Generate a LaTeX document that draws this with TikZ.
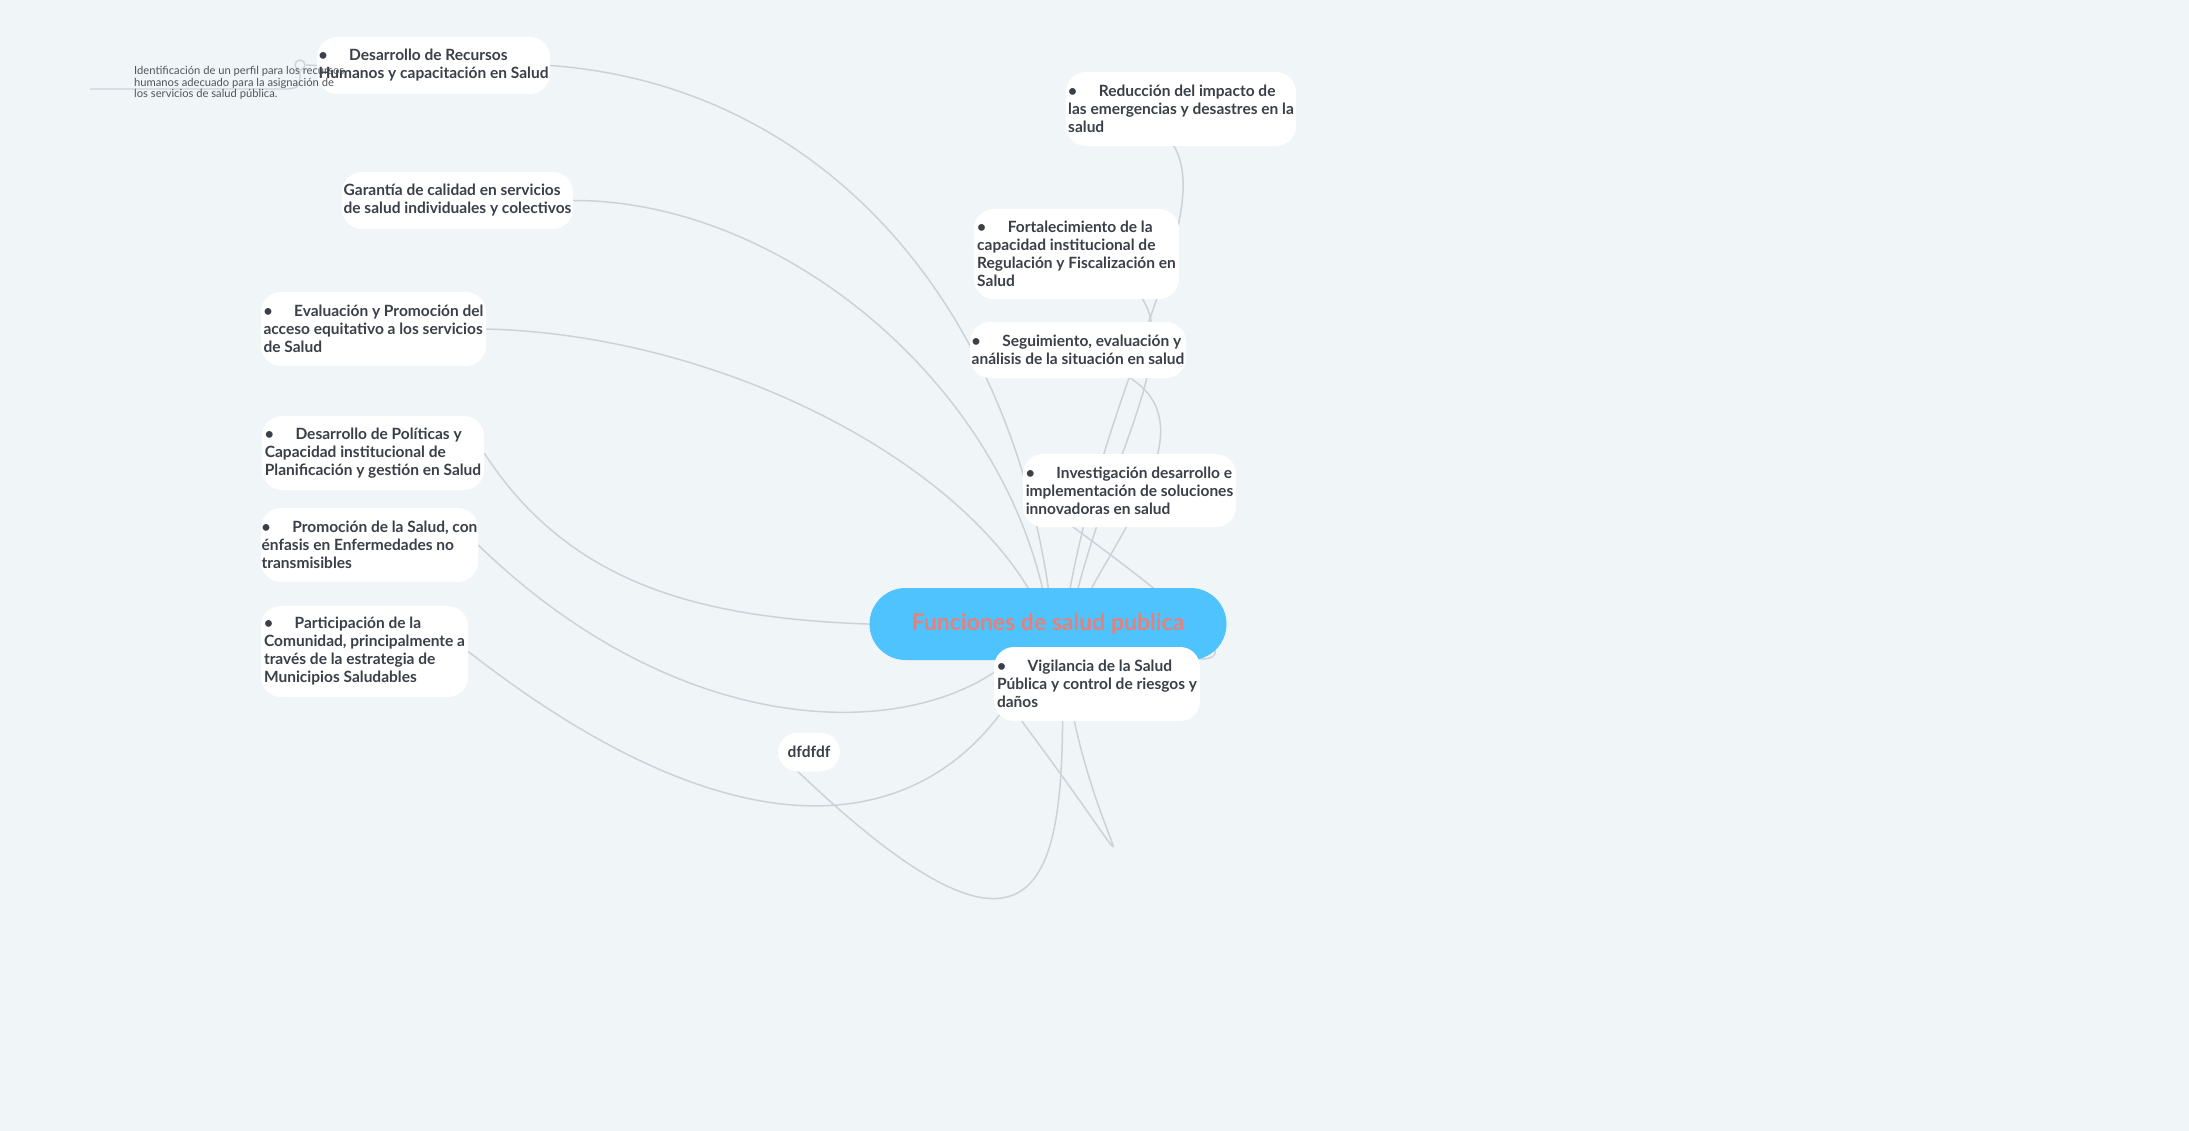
\documentclass[tikz,border=0pt]{standalone}
\usepackage{fontspec}
\setmainfont{Lato}
\usetikzlibrary{backgrounds}
\pgfdeclarelayer{bgfill}
\pgfsetlayers{bgfill,background,main}
\definecolor{bg}{HTML}{F0F5F8}
\definecolor{hub}{HTML}{4EC3FD}
\definecolor{hubtxt}{HTML}{E8807A}
\definecolor{ttl}{HTML}{3A3F48}
\definecolor{ntxt}{HTML}{50555C}
\definecolor{ln}{HTML}{CCD2D8}
\tikzset{
 topic/.style={fill=white,rounded corners=20pt,text=ttl,font=\fontsize{15.5}{18}\selectfont\bfseries,align=left,inner sep=0pt},
 hubst/.style={fill=hub,rounded corners=36pt,minimum width=357,minimum height=72,text=hubtxt,font=\fontsize{23}{26}\selectfont\bfseries},
 note/.style={anchor=north west,text=ntxt,font=\fontsize{11.2}{11.7}\selectfont,align=left,inner sep=0pt},
 conn/.style={draw=ln,line width=1.5pt},
 nconn/.style={draw=ln,line width=1.3pt},
 dot/.style={circle,draw=ln,line width=1.3pt,fill=bg,minimum size=10pt,inner sep=0pt},
}
\newcommand{\bul}{\textbullet\hspace{1.4em}}
\newcommand{\tbox}[6]{\node[topic,minimum width={#4-#2},minimum height={#5-#3}] (#1) at ({(#2+#4)/2},{(#3+#5)/2}) {#6};}
\newcommand{\lnote}[8]{
 \node[dot] (d#1) at (#2,#3) {};
 \draw[nconn] (#1.west) -- (d#1.east);
 \coordinate (e#1) at (#5,#4);
 \draw[nconn] (d#1.south) .. controls (#2,{#4-2}) and (#2,#4) .. ({#2-18},#4) -- (e#1);
 \node[note] (n#1) at (#6,#7) {#8};}
\newcommand{\rnote}[8]{
 \node[dot] (d#1) at (#2,#3) {};
 \draw[nconn] (#1.east) -- (d#1.west);
 \coordinate (e#1) at (#5,#4);
 \draw[nconn] (d#1.south) .. controls (#2,{#4-2}) and (#2,#4) .. ({#2+18},#4) -- (e#1);
 \node[note] (n#1) at (#6,#7) {#8};}
\begin{document}
\begin{tikzpicture}[x=1pt,y=-1pt]
\begin{pgfonlayer}{bgfill}
\fill[bg] (0,0) rectangle (2189,1131);
\end{pgfonlayer}
\useasboundingbox (0,0) rectangle (2189,1131);
\node[hubst] (c) at (1048,624) {Funciones de salud publica};
\tbox{L1}{317}{37}{550}{94}{\bul Desarrollo de Recursos\\Humanos y capacitación en Salud}
\tbox{L2}{342}{172}{573}{229}{Garantía de calidad en servicios\\de salud individuales y colectivos}
\tbox{L3}{261}{292}{486}{366}{\bul Evaluación y Promoción del\\acceso equitativo a los servicios\\de Salud}
\tbox{L4}{262}{416}{484}{490}{\bul Desarrollo de Políticas y\\Capacidad institucional de\\Planificación y gestión en Salud}
\tbox{L5}{261}{508}{478}{582}{\bul Promoción de la Salud, con\\énfasis en Enfermedades no\\transmisibles}
\tbox{L6}{261}{606}{468}{697}{\bul Participación de la\\Comunidad, principalmente a\\través de la estrategia de\\Municipios Saludables}
\tbox{R1}{1066}{72}{1296}{146}{\bul Reducción del impacto de\\las emergencias y desastres en la\\salud}
\tbox{R2}{974}{209}{1179}{299}{\bul Fortalecimiento de la\\capacidad institucional de\\Regulación y Fiscalización en\\Salud}
\tbox{R3}{970}{322}{1186}{378}{\bul Seguimiento, evaluación y\\análisis de la situación en salud}
\tbox{R4}{1023}{454}{1236}{527}{\bul Investigación desarrollo e\\implementación de soluciones\\innovadoras en salud}
\tbox{R5}{994}{647}{1200}{721}{\bul Vigilancia de la Salud\\Pública y control de riesgos y\\daños}
\node[topic,minimum width=62,minimum height=39,align=center] (D) at (809,752) {dfdfdf};
\begin{scope}[on background layer]
\draw[conn] (1050,600) .. controls (1010,300) and (820,85) .. (L1.east);
\draw[conn] (1045,600) .. controls (1000,380) and (780,200) .. (L2.east);
\draw[conn] (1035,600) .. controls (960,460) and (720,335) .. (L3.east);
\draw[conn] (c.center) .. controls (800,628) and (600,632) .. (L4.east);
\draw[conn] (1030,640) .. controls (950,740) and (700,760) .. (L5.east);
\draw[conn] (1040,640) .. controls (980,800) and (800,910) .. (L6.east);
\draw[conn] (1062,640) .. controls (1065,850) and (1070,1040) .. (D.west);
\draw[conn] (1068,600) .. controls (1120,300) and (1300,109) .. (R1.west);
\draw[conn] (1075,600) .. controls (1130,380) and (1260,254) .. (R2.west);
\draw[conn] (1085,600) .. controls (1150,480) and (1260,350) .. (R3.west);
\draw[conn] (c.center) .. controls (1250,680) and (1300,690) .. (R4.west);
\draw[conn] (1062,640) .. controls (1080,850) and (1200,955) .. (R5.west);
\end{scope}
\lnote{L1}{300}{65}{89}{90}{134}{66}{Identificación de un perfil para los recursos\\humanos adecuado para la asignación de\\los servicios de salud pública.}
\path (nL1) ++(0,0);
\node[note] at (134,66) {};
\end{tikzpicture}
\end{document}
